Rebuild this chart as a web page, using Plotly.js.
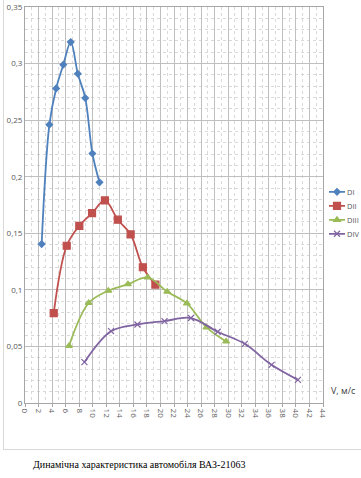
<!DOCTYPE html>
<html>
<head>
<meta charset="utf-8">
<script src="https://cdn.plot.ly/plotly-3.0.1.min.js"></script>
<style>
html,body{margin:0;padding:0;background:#fff;overflow:hidden;}
#wrap{position:relative;width:361px;height:478px;overflow:hidden;}
#chart{width:361px;height:478px;}
#frame{position:absolute;left:3px;top:-1px;width:365px;height:451px;border:1px solid #d9d9d9;pointer-events:none;box-sizing:border-box;}
</style>
</head>
<body>
<div id="wrap"><div id="chart"></div><div id="frame"></div></div>
<script>
// Data
const seriesNames = ['DI', 'DII', 'DIII', 'DIV'];
const xDI   = [2.46, 3.6, 4.6, 5.66, 6.75, 7.8, 8.9, 9.95, 11.0];
const yDI   = [0.1405, 0.246, 0.278, 0.299, 0.319, 0.291, 0.2695, 0.2205, 0.195];
const xDII  = [4.24, 6.16, 8.02, 9.9, 11.8, 13.7, 15.6, 17.4, 19.25];
const yDII  = [0.0795, 0.139, 0.1566, 0.1678, 0.179, 0.162, 0.149, 0.120, 0.1046];
const xDIII = [6.5, 9.4, 12.3, 15.2, 18.1, 21.0, 23.9, 26.8, 29.7];
const yDIII = [0.0505, 0.0884, 0.0993, 0.105, 0.111, 0.0984, 0.088, 0.0668, 0.0544];
const xDIV  = [8.77, 12.7, 16.6, 20.6, 24.5, 28.45, 32.45, 36.4, 40.3];
const yDIV  = [0.0361, 0.0635, 0.0694, 0.0724, 0.0751, 0.063, 0.0523, 0.0337, 0.0204];
const xAxisTitle = 'V, м/с';
const caption = 'Динамічна характеристика автомобіля ВАЗ-21063';

const colors = ['#4F81BD', '#C0504D', '#9BBB59', '#8064A2'];
const xs = [xDI, xDII, xDIII, xDIV];
const ys = [yDI, yDII, yDIII, yDIV];
const markers = [
  {symbol: 'diamond', size: 5},
  {symbol: 'square', size: 7},
  {symbol: 'triangle-up', size: 6},
  {symbol: 'x-thin-open', size: 6}
];

const traces = seriesNames.map((n, i) => ({
  type: 'scatter', mode: 'lines+markers', name: n,
  x: xs[i], y: ys[i],
  line: {color: colors[i], width: 1.8, shape: 'spline', smoothing: 1},
  marker: Object.assign({color: colors[i], line: {color: colors[i], width: 1.2}}, markers[i])
}));

const layout = {
  width: 361, height: 478,
  margin: {l: 25, r: 38, t: 7, b: 75, autoexpand: false},
  paper_bgcolor: '#fff', plot_bgcolor: '#fff',
  separators: ', ',
  font: {family: 'Open Sans, Liberation Sans, sans-serif', size: 8, color: '#595959'},
  showlegend: true,
  legend: {x: 0.8, y: 0.57, xanchor: 'left', yanchor: 'top',
           font: {size: 7.5, color: '#595959'}, itemwidth: 30, tracegroupgap: 0,
           bgcolor: 'rgba(0,0,0,0)'},
  xaxis: {
    range: [0, 44], dtick: 2, tick0: 0, tickangle: 90,
    showgrid: true, gridcolor: '#bfbfbf', gridwidth: 1,
    minor: {dtick: 1, showgrid: true, gridcolor: '#d9d9d9', griddash: 'dot', ticks: ''},
    showline: true, linecolor: '#a6a6a6', mirror: true,
    ticks: 'outside', ticklen: 3, tickcolor: '#a6a6a6',
    zeroline: false, fixedrange: true,
    tickfont: {size: 8, color: '#595959'}
  },
  yaxis: {
    range: [0, 0.35], dtick: 0.05, tick0: 0,
    showgrid: true, gridcolor: '#bfbfbf', gridwidth: 1,
    minor: {dtick: 0.01, showgrid: true, gridcolor: '#d9d9d9', griddash: 'dot', ticks: ''},
    showline: true, linecolor: '#a6a6a6', mirror: true,
    ticks: '', zeroline: false, fixedrange: true,
    tickfont: {size: 8, color: '#595959'}
  },
  annotations: [
    {text: xAxisTitle, xref: 'paper', yref: 'paper', x: 1.02, y: 0.01,
     xanchor: 'left', yanchor: 'bottom', showarrow: false,
     font: {size: 9, color: '#404040', family: 'Open Sans, Liberation Sans, sans-serif'}},
    {text: caption, xref: 'paper', yref: 'paper', x: 0.02, y: -0.155,
     xanchor: 'left', yanchor: 'middle', showarrow: false,
     font: {size: 10, color: '#000', family: 'Liberation Serif, Times New Roman, serif'}}
  ]
};

const parseT = s => {
  const m = /translate\(\s*([-\d.]+)[ ,]+([-\d.]+)\s*\)/.exec(s || '');
  return m ? [parseFloat(m[1]), parseFloat(m[2])] : [0, 0];
};

Plotly.newPlot('chart', traces, layout, {displayModeBar: false, staticPlot: true}).then(gd => {
  // move the legend into the right margin and compact its entries like the original
  const leg = gd.querySelector('g.legend');
  if (leg) {
    const [lx, ly] = parseT(leg.getAttribute('transform'));
    leg.setAttribute('transform', 'translate(324,' + ly + ')');
  }
  const items = gd.querySelectorAll('.legend .traces');
  let y0 = null;
  items.forEach((g, i) => {
    const [tx, ty] = parseT(g.getAttribute('transform'));
    if (y0 === null) y0 = ty;
    g.setAttribute('transform', 'translate(' + tx + ',' + (y0 + i * 14) + ')');
    g.querySelectorAll('.legendlines path').forEach(p => p.setAttribute('d', 'M5,0h16'));
    g.querySelectorAll('.legendsymbols path.scatterpts').forEach(p => p.setAttribute('transform', 'translate(13,0)'));
    const t = g.querySelector('text.legendtext');
    if (t) t.setAttribute('x', 23);
  });
});
</script>
</body>
</html>
